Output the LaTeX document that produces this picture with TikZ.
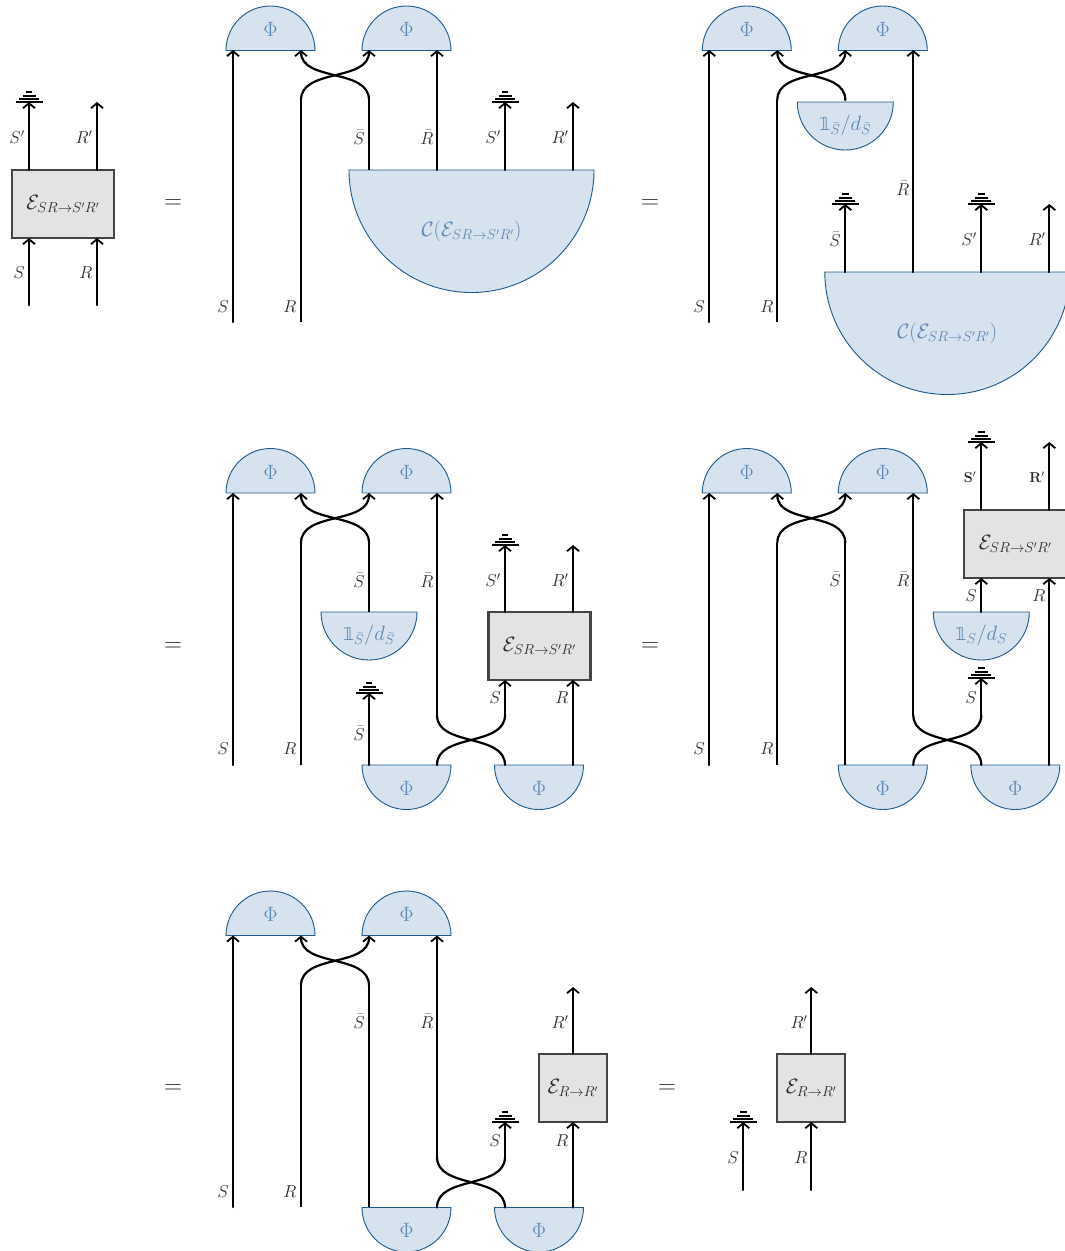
\documentclass[tikz,border=0pt]{standalone}
\usepackage{amsmath,amssymb}
\usepackage[no-math]{fontspec}
\newfontfamily\dblfont{DejaVu Sans}
\newcommand\dblone{\text{\fontsize{17.5}{20}\dblfont\symbol{"1D7D9}}}
\usetikzlibrary{arrows.meta}
\definecolor{capfill}{HTML}{D6E2ED}
\definecolor{capline}{HTML}{1F5A8F}
\definecolor{captext}{HTML}{5B87B5}
\definecolor{boxfill}{HTML}{E3E3E3}
\definecolor{boxline}{HTML}{444444}
\definecolor{labtext}{HTML}{2B2B2B}
\tikzset{
  x=1pt,y=-1pt,
  wire/.style={line width=2.2pt,black},
  awire/.style={wire,line cap=round,-{Straight Barb[length=5pt,width=12pt,line width=1.8pt]}},
  cwire/.style={wire,line cap=round},
  gndline/.style={line width=1.9pt,black},
  capshape/.style={draw=capline,fill=capfill,line width=0.9pt},
  captxt/.style={text=captext,inner sep=0pt,font=\fontsize{19.5}{22}\selectfont},
  cattxt/.style={text=captext,inner sep=0pt,font=\fontsize{20.5}{24}\selectfont},
  lab/.style={text=labtext,inner sep=0pt,font=\fontsize{18.5}{22}\selectfont},
  smalllab/.style={text=labtext,inner sep=0pt,font=\fontsize{14.5}{17}\selectfont},
  eqs/.style={text=labtext,inner sep=0pt,font=\fontsize{23}{26}\selectfont},
  chan/.style={draw=boxline,fill=boxfill,line width=2.2pt,outer sep=0pt,text=labtext,inner sep=0pt,font=\fontsize{20.5}{24}\selectfont,anchor=north west},
}
\newcommand\wpl[4]{\coordinate (#1a) at (#2,#3); \coordinate (#1b) at (#2,#4); \draw[wire] (#1a) -- (#1b);}
\newcommand\wa[4]{\coordinate (#1a) at (#2,#3); \coordinate (#1b) at (#2,#4); \draw[awire] (#1a) -- (#1b);}
\newcommand\gnd[3]{\coordinate (#1) at (#2,#3);
  \draw[gndline] ([xshift=-13.5pt]#1) -- ([xshift=13.5pt]#1);
  \draw[gndline] ([xshift=-10pt,yshift=3pt]#1) -- ([xshift=10pt,yshift=3pt]#1);
  \draw[gndline] ([xshift=-6.5pt,yshift=6.4pt]#1) -- ([xshift=6.5pt,yshift=6.4pt]#1);
  \draw[gndline] ([xshift=-3.3pt,yshift=10pt]#1) -- ([xshift=3.3pt,yshift=10pt]#1);}
\newcommand\phiup[3]{\draw[capshape] (#2,#3) ++(-44.5pt,0) arc[start angle=180,end angle=0,radius=44.5pt] -- cycle;
  \node[captxt] (#1) at (#2,#3-21) {$\Phi$};}
\newcommand\phidn[3]{\draw[capshape] (#2,#3) ++(-44.5pt,0) arc[start angle=180,end angle=360,radius=44.5pt] -- cycle;
  \node[captxt] (#1) at (#2,#3+23) {$\Phi$};}
\newcommand\halfdn[6]{\draw[capshape] (#2,#3) ++(-#4pt,0) arc[start angle=180,end angle=360,radius=#4pt] -- cycle;
  \node[cattxt] (#1) at (#2,#3+#5) {$#6$};}
\newcommand\lab[3]{\node[lab] at (#1,#2) {$#3$};}
\newcommand\chbox[6]{\node[chan,minimum width=#4pt,minimum height=#5pt] (#1) at (#2,#3) {$#6$};}
% name, left x, lower y, upper y
\newcommand\Stop[4]{%
  \coordinate (tl#1) at (#2,#3); \coordinate (tr#1) at (#2+68,#3);
  \coordinate (ul#1) at (#2,#4); \coordinate (ur#1) at (#2+68,#4);
  \draw[awire] (tl#1) .. controls (#2,#3-32) and (#2+68,#4+32) .. (ur#1);
  \draw[awire] (tr#1) .. controls (#2+68,#3-32) and (#2,#4+32) .. (ul#1);}
\newcommand\Sbot[4]{%
  \coordinate (bl#1) at (#2,#3); \coordinate (br#1) at (#2+68,#3);
  \coordinate (cl#1) at (#2,#4); \coordinate (cr#1) at (#2+68,#4);
  \draw[cwire] (bl#1) .. controls (#2,#3-32) and (#2+68,#4+32) .. (cr#1);
  \draw[cwire] (br#1) .. controls (#2+68,#3-32) and (#2,#4+32) .. (cl#1);}
\begin{document}
\begin{tikzpicture}
\useasboundingbox (0,0) rectangle (1065,1251);
\fill[white] (0,0) rectangle (1065,1251);

% ---- first panel
\chbox{b1}{12}{170}{102}{68}{\mathcal{E}_{SR\to S'R'}}
\wa{p1a}{29}{305}{238}
\wa{p1b}{97}{305}{238}
\wa{p1c}{29}{170}{102}
\wa{p1d}{97}{170}{102}
\gnd{g1}{29}{102}
\lab{19}{273}{S}\lab{86}{273}{R}\lab{17}{137}{S'}\lab{84}{137}{R'}
\node[eqs] (e1) at (173,204) {$=$};

% ---- panel A
\phiup{a1}{270.5}{50.5}\phiup{a2}{406.5}{50.5}
\halfdn{a3}{471.5}{170}{122.5}{61}{\mathcal{C}(\mathcal{E}_{SR\to S'R'})}
\wa{qa}{233}{322}{50}
\wpl{qb}{301}{322}{100}
\wpl{qc}{369}{170}{100}
\wa{qd}{437}{170}{50}
\wa{qe}{505}{170}{102}
\wa{qf}{573}{170}{102}
\gnd{g2}{505}{102}
\Stop{xa}{301}{100}{50}
\lab{223}{307}{S}\lab{290}{307}{R}\lab{359}{137}{\bar S}\lab{427}{137}{\bar R}\lab{493}{137}{S'}\lab{560}{137}{R'}
\node[eqs] (e2) at (650,204) {$=$};

% ---- panel B
\phiup{a4}{746.8}{50.5}\phiup{a5}{882.8}{50.5}
\halfdn{a6}{845.3}{102}{48}{23}{\dblone_{\bar S}/d_{\bar S}}
\halfdn{a7}{947.3}{272}{122.5}{61}{\mathcal{C}(\mathcal{E}_{SR\to S'R'})}
\wa{ra}{709.3}{322}{50}
\wpl{rb}{777.3}{322}{100}
\wa{rd}{913.3}{272}{50}
\wa{rc}{845.3}{272}{204}
\wa{re}{981.3}{272}{204}
\wa{rf}{1049.3}{272}{204}
\gnd{g3}{845.3}{204}\gnd{g4}{981.3}{204}
\Stop{xb}{777.3}{100}{50}
\lab{699}{307}{S}\lab{767}{307}{R}\lab{835}{239}{\bar S}\lab{903}{188}{\bar R}\lab{969}{239}{S'}\lab{1037}{239}{R'}

% ---- panel C
\node[eqs] (e3) at (173,647) {$=$};
\phiup{c1}{270.5}{493}\phiup{c2}{406.5}{493}
\halfdn{c3}{369}{612}{48}{23}{\dblone_{\bar S}/d_{\bar S}}
\chbox{b2}{488.5}{612}{102}{68}{\mathcal{E}_{SR\to S'R'}}
\phidn{c4}{406.5}{765}\phidn{c5}{539}{765}
\wa{sa}{233}{765}{493}
\wpl{sb}{301}{765}{543}
\wpl{sc}{369}{612}{543}
\Stop{xc}{301}{543}{493}
\wa{sd}{437}{715}{493}
\Sbot{yc}{437}{765}{715}
\wa{se}{505}{715}{680}
\wa{sf}{573}{765}{680}
\wa{sg}{505}{612}{545}
\wa{sh}{573}{612}{545}
\gnd{g5}{505}{545}
\wa{si}{369}{765}{693}
\gnd{g6}{369}{693}
\lab{223}{749}{S}\lab{290}{749}{R}\lab{359}{580}{\bar S}\lab{427}{580}{\bar R}\lab{493}{580}{S'}\lab{560}{580}{R'}
\lab{495}{698}{S}\lab{562}{698}{R}\lab{359}{733}{\bar S}

% ---- panel D
\node[eqs] (e4) at (650,647) {$=$};
\phiup{d1}{746.8}{493}\phiup{d2}{882.8}{493}
\halfdn{d3}{981.3}{612}{48}{23}{\dblone_{S}/d_{S}}
\chbox{b3}{964.3}{510}{102}{68}{\mathcal{E}_{SR\to S'R'}}
\phidn{d4}{882.8}{765}\phidn{d5}{1015.3}{765}
\wa{ta}{709.3}{765}{493}
\wpl{tb}{777.3}{765}{543}
\wpl{tc}{845.3}{765}{543}
\Stop{xd}{777.3}{543}{493}
\wa{td}{913.3}{715}{493}
\Sbot{yd}{913.3}{765}{715}
\wa{te}{981.3}{715}{678}
\gnd{g7}{981.3}{678}
\wa{tf}{1049.3}{765}{578}
\wa{tg}{981.3}{612}{578}
\wa{th}{981.3}{510}{442}
\wa{ti}{1049.3}{510}{442}
\gnd{g8}{981.3}{442}
\lab{699}{749}{S}\lab{767}{749}{R}\lab{835}{579}{\bar S}\lab{903}{579}{\bar R}
\node[smalllab] at (970,477) {$\mathbf{S'}$};
\node[smalllab] at (1037,477) {$\mathbf{R'}$};
\lab{971}{596}{S}\lab{1039}{596}{R}\lab{971}{698}{S}

% ---- panel E
\node[eqs] (e5) at (173,1089) {$=$};
\phiup{f1}{270.5}{935.5}\phiup{f2}{406.5}{935.5}
\chbox{b4}{539}{1054}{68}{68}{\mathcal{E}_{R\to R'}}
\phidn{f3}{406.5}{1207.5}\phidn{f4}{539}{1207.5}
\wa{ua}{233}{1207}{935.5}
\wpl{ub}{301}{1207}{985.5}
\wpl{uc}{369}{1207}{985.5}
\Stop{xe}{301}{985.5}{935.5}
\wa{ud}{437}{1157}{935.5}
\Sbot{ye}{437}{1207.5}{1157}
\wa{ue}{505}{1157}{1122}
\gnd{g9}{505}{1122}
\wa{uf}{573}{1207.5}{1122}
\wa{ug}{573}{1054}{987}
\lab{223}{1192}{S}\lab{290}{1192}{R}\lab{359}{1021}{\bar S}\lab{427}{1021}{\bar R}\lab{560}{1022}{R'}\lab{495}{1141}{S}\lab{562}{1141}{R}

% ---- panel F
\node[eqs] (e6) at (667,1089) {$=$};
\chbox{b5}{777.3}{1054}{68}{68}{\mathcal{E}_{R\to R'}}
\wa{va}{811.3}{1190}{1122}
\wa{vb}{811.3}{1054}{987}
\wa{vc}{743.3}{1190}{1122}
\gnd{g10}{743.3}{1122}
\lab{799}{1022}{R'}\lab{733}{1158}{S}\lab{801}{1158}{R}
\end{tikzpicture}
\end{document}
